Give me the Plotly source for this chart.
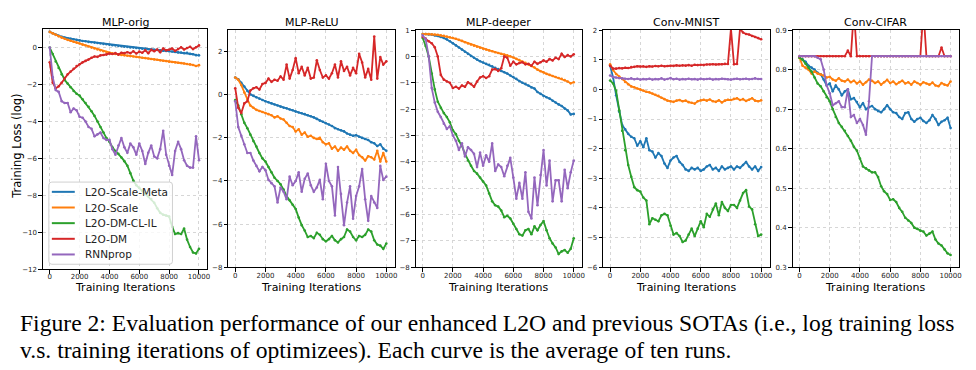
import plotly.graph_objects as go

W, H = 976, 370

ITERS = list(range(0, 10001, 200))
SERIES_NAMES = ["L2O-Scale-Meta", "L2O-Scale", "L2O-DM-CL-IL", "L2O-DM", "RNNprop"]
COLORS = ["#1f77b4", "#ff7f0e", "#2ca02c", "#d62728", "#9467bd"]
PANEL_TITLES = ["MLP-orig", "MLP-ReLU", "MLP-deeper", "Conv-MNIST", "Conv-CIFAR"]
X_TICKS = [0, 2000, 4000, 6000, 8000, 10000]

# ---------------- MLP-orig ----------------
P1_META = [0.85, 0.78, 0.70, 0.64, 0.59, 0.55, 0.51, 0.48, 0.45, 0.42,
           0.39, 0.36, 0.34, 0.31, 0.29, 0.27, 0.25, 0.22, 0.20, 0.18,
           0.15, 0.13, 0.11, 0.09, 0.07, 0.05, 0.03, 0.01, 0.00, -0.02,
           -0.04, -0.06, -0.07, -0.09, -0.10, -0.12, -0.13, -0.15, -0.17, -0.18,
           -0.20, -0.21, -0.24, -0.26, -0.27, -0.30, -0.28, -0.34, -0.36, -0.41,
           -0.42]
P1_SCALE = [0.85, 0.77, 0.69, 0.61, 0.54, 0.48, 0.42, 0.37, 0.32, 0.27,
            0.22, 0.16, 0.11, 0.06, 0.00, -0.05, -0.10, -0.15, -0.20, -0.24,
            -0.28, -0.31, -0.34, -0.37, -0.40, -0.42, -0.44, -0.46, -0.48, -0.50,
            -0.52, -0.55, -0.57, -0.59, -0.62, -0.64, -0.66, -0.69, -0.71, -0.73,
            -0.76, -0.78, -0.80, -0.82, -0.84, -0.86, -0.89, -0.91, -0.94, -1.00,
            -0.95]
P1_DMCL = [0.0, -0.35, -0.75, -1.1, -1.45, -1.75, -1.95, -2.15, -2.35, -2.5,
           -2.6, -2.8, -3.0, -3.2, -3.45, -3.7, -4.0, -4.3, -4.6, -4.9,
           -5.1, -5.4, -5.6, -5.75, -5.95, -6.15, -6.4, -6.8, -7.2, -7.45,
           -7.6, -7.75, -7.9, -8.05, -8.2, -8.4, -8.7, -8.95, -9.05, -9.1,
           -9.15, -9.7, -10.1, -10.05, -10.1, -9.8, -10.4, -10.8, -11.1, -11.15,
           -10.9]
P1_DM = [-0.8, -1.9, -2.2, -2.1, -1.9, -1.65, -1.45, -1.3, -1.15, -1.0,
         -0.9, -0.8, -0.72, -0.65, -0.55, -0.48, -0.5, -0.42, -0.4, -0.38,
         -0.32, -0.35, -0.3, -0.38, -0.28, -0.3, -0.25, -0.3, -0.2, -0.32,
         -0.22, -0.28, -0.15, -0.3, -0.12, -0.2, -0.1, -0.25, -0.05, -0.15,
         -0.12, -0.05, -0.18, -0.08, 0.02, -0.1, -0.02, 0.05, -0.08, 0.02,
         0.12]
P1_RNN = [0.0, -1.6, -2.3, -2.4, -2.9, -3.0, -3.0, -3.5, -3.3, -3.4,
          -3.75, -3.8, -4.0, -4.3, -4.4, -4.8, -4.7, -4.6, -4.9, -5.0,
          -5.0, -5.5, -5.8, -5.3, -4.9, -5.4, -5.7, -5.2, -5.4, -5.8,
          -5.2, -5.6, -6.3, -5.7, -5.3, -5.9, -6.0, -5.5, -4.5, -5.8,
          -6.4, -6.9, -5.6, -5.1, -5.5, -6.1, -6.4, -6.5, -6.5, -4.8,
          -6.1]

# ---------------- MLP-ReLU ----------------
P2_META = [0.8, 0.72, 0.55, 0.38, 0.18, 0.02, -0.05, -0.12, -0.18, -0.24,
           -0.3, -0.35, -0.4, -0.45, -0.5, -0.55, -0.6, -0.63, -0.68, -0.72,
           -0.78, -0.82, -0.86, -0.9, -0.95, -1.0, -1.05, -1.12, -1.2, -1.25,
           -1.32, -1.38, -1.45, -1.55, -1.6, -1.65, -1.7, -1.8, -1.85, -1.9,
           -1.88, -1.95, -2.0, -2.05, -2.1, -2.2, -2.25, -2.38, -2.3, -2.5,
           -2.6]
P2_SCALE = [0.8, 0.7, 0.45, 0.1, -0.2, -0.5, -0.6, -0.7, -0.75, -0.8,
            -0.85, -0.9, -0.95, -1.05, -1.0, -1.1, -1.15, -1.3, -1.45, -1.5,
            -1.7, -1.6, -1.85, -1.75, -1.95, -1.9, -2.0, -2.05, -2.0, -2.2,
            -2.3, -2.25, -2.5, -2.4, -2.6, -2.45, -2.55, -2.4, -2.6, -2.7,
            -2.55, -2.8, -2.9, -3.05, -2.85, -2.9, -3.0, -2.6, -3.1, -2.7,
            -3.1]
P2_DMCL = [-0.25, -0.5, -0.9, -1.3, -1.55, -1.85, -2.15, -2.4, -2.7, -2.95,
           -3.1, -3.35, -3.6, -3.85, -4.0, -4.15, -4.4, -4.7, -4.9, -5.1,
           -5.3, -5.7, -6.05, -6.3, -6.6, -6.55, -6.65, -6.4, -6.5, -6.7,
           -6.8, -6.7, -6.55, -6.75, -6.85, -6.7, -6.6, -6.25, -6.35, -6.6,
           -6.75, -6.55, -6.6, -6.5, -6.25, -6.35, -6.75, -6.95, -7.0, -7.15,
           -6.9]
P2_DM = [0.3, -0.6, -0.85, -0.4, -0.3, 0.2, 0.3, 0.35, 0.25, 0.5,
         0.55, 0.75, 0.6, 0.7, 0.65, 0.85, 0.7, 1.4, 0.75, 1.15,
         1.7, 1.0, 1.3, 0.9, 1.25, 0.75, 0.8, 1.6, 1.15, 0.8,
         0.9, 0.75, 1.0, 1.4, 0.8, 1.55, 1.1, 1.3, 0.9, 1.25,
         1.0, 1.9, 1.5, 0.8, 1.2, 0.7, 2.7, 0.75, 1.75, 1.4,
         1.55]
P2_RNN = [-0.3, -1.5, -1.9, -2.3, -2.7, -2.7, -3.05, -3.3, -3.55, -3.35,
          -3.5, -3.95, -4.1, -4.25, -5.0, -4.3, -4.5, -4.85, -3.8, -4.2,
          -4.0, -3.6, -4.5, -3.9, -3.65, -4.2, -4.5, -4.3, -3.95, -4.85,
          -3.2, -4.0, -4.25, -5.6, -3.35, -4.6, -6.05, -5.0, -4.25, -5.75,
          -4.7, -4.25, -3.45, -4.85, -5.85, -4.7, -5.0, -5.25, -3.3, -3.95,
          -3.8]

# ---------------- MLP-deeper ----------------
P3_META = [0.85, 0.85, 0.84, 0.83, 0.8, 0.78, 0.74, 0.7, 0.65, 0.58,
           0.5, 0.42, 0.34, 0.26, 0.18, 0.1, 0.02, -0.05, -0.12, -0.18,
           -0.23, -0.28, -0.32, -0.37, -0.43, -0.48, -0.55, -0.6, -0.65, -0.72,
           -0.78, -0.85, -0.93, -1.0, -1.05, -1.1, -1.18, -1.22, -1.35, -1.42,
           -1.5, -1.55, -1.6, -1.68, -1.75, -1.82, -1.88, -1.98, -2.05, -2.2,
           -2.18]
P3_SCALE = [0.85, 0.85, 0.85, 0.84, 0.83, 0.82, 0.8, 0.78, 0.76, 0.73,
            0.7, 0.67, 0.63, 0.59, 0.54, 0.49, 0.45, 0.41, 0.37, 0.33,
            0.29, 0.26, 0.23, 0.2, 0.16, 0.13, 0.1, 0.07, 0.04, 0.01,
            -0.04, -0.09, -0.14, -0.19, -0.24, -0.3, -0.36, -0.42, -0.5, -0.56,
            -0.6, -0.66, -0.7, -0.74, -0.78, -0.82, -0.85, -0.9, -0.95, -1.02,
            -0.98]
P3_DMCL = [0.7, 0.4, 0.0, -0.65, -1.25, -1.72, -1.95, -2.15, -2.3, -2.5,
           -2.8, -2.95, -3.2, -3.4, -3.7, -3.95, -4.15, -4.35, -4.45, -4.6,
           -4.75, -4.9, -5.2, -5.5, -5.65, -5.7, -5.85, -6.1, -6.05, -6.15,
           -6.35, -6.55, -6.75, -6.8, -6.6, -6.55, -6.75, -6.45, -6.6, -6.4,
           -6.25, -6.6, -6.9, -7.1, -7.25, -7.5, -7.4, -7.35, -7.45, -7.3,
           -6.9]
P3_DM = [0.75, 0.68, 0.58, 0.5, 0.35, 0.0, -0.7, -0.88, -0.95, -1.0,
         -1.2, -1.15, -1.22, -1.1, -1.15, -0.98, -1.05, -1.15, -0.95, -0.8,
         -0.75, -0.82, -0.75, -0.5, -0.48, -0.55, -0.45, 0.0, -0.05, -0.35,
         -0.2, -0.3, -0.25, -0.22, -0.3, -0.28, -0.35, -0.2, -0.28, -0.22,
         -0.15, -0.2, -0.1, -0.15, -0.05, -0.1, 0.1, -0.02, 0.05, 0.0,
         0.08]
P3_RNN = [0.8, 0.65, 0.0, -1.2, -1.75, -2.1, -2.3, -2.55, -2.75, -2.65,
          -3.0, -3.2, -3.55, -3.3, -3.8, -3.45, -3.55, -3.7, -4.2, -3.65,
          -4.15, -3.75, -4.0, -3.3, -4.35, -4.1, -4.2, -4.55, -4.15, -3.85,
          -4.6, -5.4, -4.8, -5.4, -4.4, -5.9, -6.15, -4.6, -5.65, -4.5,
          -3.55, -4.9, -3.95, -5.5, -4.7, -4.7, -5.5, -4.3, -5.0, -4.4,
          -3.95]

# ---------------- Conv-MNIST ----------------
P4_META = [0.8, 0.4, -0.2, -0.75, -1.2, -1.35, -1.5, -1.6, -1.65, -1.9,
           -1.75, -1.95, -1.65, -2.05, -2.1, -2.3, -2.15, -2.25, -2.5, -2.65,
           -2.4, -2.3, -2.25, -2.45, -2.55, -2.7, -2.75, -2.65, -2.7, -2.65,
           -2.75, -2.7, -2.6, -2.55, -2.7, -2.65, -2.75, -2.6, -2.7, -2.65,
           -2.6, -2.7, -2.6, -2.65, -2.55, -2.45, -2.6, -2.7, -2.6, -2.75,
           -2.62]
P4_SCALE = [0.85, 0.65, 0.52, 0.43, 0.35, 0.25, 0.17, 0.1, 0.07, 0.03,
            0.0, -0.04, -0.08, -0.1, -0.14, -0.18, -0.22, -0.28, -0.33, -0.38,
            -0.4, -0.42, -0.38, -0.36, -0.4, -0.38, -0.43, -0.45, -0.48, -0.4,
            -0.37, -0.35, -0.38, -0.34, -0.4, -0.42, -0.37, -0.44, -0.38, -0.35,
            -0.36, -0.32, -0.3, -0.36, -0.33, -0.39, -0.35, -0.3, -0.38, -0.4,
            -0.37]
P4_DMCL = [0.3, 0.2, -0.05, -0.7, -1.4, -2.05, -2.55, -2.95, -3.3, -3.4,
           -3.45, -3.65, -3.75, -4.55, -4.35, -4.4, -4.45, -4.25, -4.2, -4.25,
           -4.6, -4.9, -4.85, -4.95, -5.15, -5.1, -4.9, -4.7, -4.95, -4.7,
           -4.45, -4.65, -4.2, -4.3, -4.05, -3.85, -4.25, -3.8, -4.0, -4.1,
           -3.9, -3.9, -4.0, -3.75, -3.5, -3.4, -3.95, -4.05, -4.55, -4.95,
           -4.9]
P4_DM = [0.8, 0.7, 0.7, 0.72, 0.71, 0.73, 0.72, 0.75, 0.76, 0.78,
         0.77, 0.78, 0.76, 0.78, 0.77, 0.79, 0.78, 0.8, 0.78, 0.79,
         0.8, 0.79, 0.81, 0.8, 0.81, 0.8, 0.82, 0.8, 0.83, 0.82,
         0.83, 0.82, 0.84, 0.84, 0.85, 0.84, 0.85, 0.85, 0.86, 0.86,
         2.05, 0.85, 0.86, 2.05, 1.92, 1.87, 1.85, 1.8, 1.77, 1.73,
         1.69]
P4_RNN = [0.47, 0.42, 0.4, 0.38, 0.37, 0.36, 0.35, 0.37, 0.34, 0.36,
          0.33, 0.35, 0.34, 0.36, 0.33, 0.35, 0.34, 0.37, 0.33, 0.35,
          0.38, 0.34, 0.36, 0.33, 0.35, 0.34, 0.36, 0.34, 0.35, 0.33,
          0.36, 0.34, 0.35, 0.36, 0.33, 0.35, 0.34, 0.36, 0.35, 0.34,
          0.33, 0.35, 0.36, 0.34, 0.35, 0.36, 0.34, 0.35, 0.37, 0.35,
          0.35]

# ---------------- Conv-CIFAR ----------------
P5_META = [0.83, 0.826, 0.82, 0.81, 0.805, 0.8, 0.792, 0.788, 0.775, 0.76,
           0.765, 0.745, 0.76, 0.75, 0.735, 0.745, 0.75, 0.725, 0.728, 0.718,
           0.705, 0.715, 0.7, 0.705, 0.708, 0.7, 0.695, 0.692, 0.7, 0.71,
           0.7, 0.692, 0.69, 0.68, 0.675, 0.69, 0.692, 0.675, 0.668, 0.675,
           0.678, 0.67, 0.665, 0.672, 0.685, 0.675, 0.66, 0.668, 0.672, 0.678,
           0.652]
P5_SCALE = [0.83, 0.81, 0.805, 0.8, 0.79, 0.795, 0.79, 0.788, 0.785, 0.78,
            0.782, 0.775, 0.772, 0.778, 0.772, 0.77, 0.775, 0.768, 0.772, 0.765,
            0.77, 0.762, 0.768, 0.775, 0.772, 0.766, 0.77, 0.762, 0.768, 0.774,
            0.766, 0.77, 0.763, 0.768, 0.772, 0.765, 0.768, 0.762, 0.77, 0.766,
            0.762, 0.768, 0.765, 0.762, 0.767, 0.76, 0.758, 0.766, 0.762, 0.76,
            0.77]
P5_DMCL = [0.83, 0.825, 0.815, 0.805, 0.795, 0.78, 0.765, 0.758, 0.745, 0.73,
           0.72, 0.7, 0.68, 0.665, 0.655, 0.645, 0.632, 0.62, 0.605, 0.595,
           0.575, 0.555, 0.55, 0.545, 0.54, 0.54, 0.528, 0.505, 0.492, 0.485,
           0.47, 0.472, 0.465, 0.45, 0.44, 0.425, 0.418, 0.412, 0.4, 0.397,
           0.392, 0.39, 0.38, 0.385, 0.39, 0.37, 0.36, 0.355, 0.345, 0.335,
           0.331]
P5_DM = [0.834, 0.834, 0.834, 0.834, 0.834, 0.834, 0.834, 0.834, 0.834, 0.834,
         0.834, 0.834, 0.834, 0.834, 0.834, 0.834, 0.848, 0.834, 0.95, 0.834,
         0.834, 0.834, 0.834, 0.834, 0.834, 0.834, 0.834, 0.834, 0.834, 0.834,
         0.834, 0.834, 0.834, 0.834, 0.834, 0.834, 0.834, 0.834, 0.834, 0.834,
         0.834, 0.95, 0.834, 0.834, 0.834, 0.834, 0.834, 0.856, 0.834, 0.834,
         0.834]
P5_RNN = [0.834, 0.834, 0.834, 0.834, 0.834, 0.834, 0.83, 0.826, 0.8, 0.76,
          0.74, 0.71, 0.715, 0.72, 0.705, 0.705, 0.75, 0.68, 0.685, 0.665,
          0.675, 0.66, 0.635, 0.72, 0.834, 0.834, 0.834, 0.834, 0.834, 0.834,
          0.834, 0.834, 0.834, 0.834, 0.834, 0.834, 0.834, 0.834, 0.834, 0.834,
          0.834, 0.834, 0.834, 0.834, 0.834, 0.834, 0.834, 0.834, 0.834, 0.834,
          0.834]

PANEL_DATA = [
    [P1_META, P1_SCALE, P1_DMCL, P1_DM, P1_RNN],
    [P2_META, P2_SCALE, P2_DMCL, P2_DM, P2_RNN],
    [P3_META, P3_SCALE, P3_DMCL, P3_DM, P3_RNN],
    [P4_META, P4_SCALE, P4_DMCL, P4_DM, P4_RNN],
    [P5_META, P5_SCALE, P5_DMCL, P5_DM, P5_RNN],
]
Y_RANGES = [[-12, 1], [-8, 3], [-8, 1], [-6, 2], [0.3, 0.9]]
Y_TICK0 = [-12, -8, -8, -6, 0.3]
Y_DTICK = [2, 2, 1, 1, 0.1]
Y_FORMAT = ["d", "d", "d", "d", ".1f"]

# panel frames in pixels: (left, right, top, bottom)
FRAMES = [(43, 208, 25.7, 271), (229, 396, 26.7, 269), (417, 584, 26.7, 269),
          (605, 772, 26.7, 269), (795, 962, 26.7, 269)]


def px(x):
    return x / W


def py(y):
    return 1 - y / H


FONT = "DejaVu Sans"
fig = go.Figure()
annotations = []
shapes = []

for p in range(5):
    xa = "x" if p == 0 else f"x{p + 1}"
    ya = "y" if p == 0 else f"y{p + 1}"
    for s in range(5):
        fig.add_trace(go.Scatter(
            x=ITERS, y=PANEL_DATA[p][s], xaxis=xa, yaxis=ya,
            mode="lines+markers", name=SERIES_NAMES[s], showlegend=False,
            line=dict(color=COLORS[s], width=1.8),
            marker=dict(size=2.6, color=COLORS[s]),
            cliponaxis=True,
        ))
    l, r, t, b = FRAMES[p]
    common = dict(showline=True, linecolor="black", linewidth=1, mirror=True,
                  ticks="outside", ticklen=3.5, tickwidth=1, tickcolor="black",
                  showgrid=True, gridcolor="#d6d6d6", griddash="dot", gridwidth=1,
                  zeroline=False, tickfont=dict(family=FONT, size=7, color="#222"))
    fig.layout[("xaxis" if p == 0 else f"xaxis{p + 1}")] = dict(
        domain=[px(l), px(r)], anchor=ya, range=[-460, 10560],
        tickmode="array", tickvals=X_TICKS, ticktext=[str(v) for v in X_TICKS],
        ticklabelstandoff=-3 if p == 0 else -2, **common)
    fig.layout[("yaxis" if p == 0 else f"yaxis{p + 1}")] = dict(
        domain=[py(b), py(t)], anchor=xa, range=Y_RANGES[p],
        tickmode="linear", tick0=Y_TICK0[p], dtick=Y_DTICK[p], tickformat=Y_FORMAT[p],
        **common)
    cx = (l + r) / 2
    annotations.append(dict(text=PANEL_TITLES[p], x=px(cx), y=py(19), xref="paper", yref="paper",
                            showarrow=False, xanchor="center", yanchor="middle",
                            font=dict(family=FONT, size=11, color="black")))
    annotations.append(dict(text="Training Iterations", x=px(cx), y=py(290), xref="paper", yref="paper",
                            showarrow=False, xanchor="center", yanchor="middle",
                            font=dict(family=FONT, size=11, color="black")))

annotations.append(dict(text="Training Loss (log)", x=px(17), y=py(145), xref="paper", yref="paper",
                        showarrow=False, xanchor="center", yanchor="middle", textangle=-90,
                        font=dict(family=FONT, size=11.5, color="black")))

# legend (inside MLP-orig panel)
lx0, lx1, ly0, ly1, rad = 49, 173, 182, 266, 3
path = (f"M {px(lx0 + rad)},{py(ly0)} L {px(lx1 - rad)},{py(ly0)} "
        f"Q {px(lx1)},{py(ly0)} {px(lx1)},{py(ly0 + rad)} L {px(lx1)},{py(ly1 - rad)} "
        f"Q {px(lx1)},{py(ly1)} {px(lx1 - rad)},{py(ly1)} L {px(lx0 + rad)},{py(ly1)} "
        f"Q {px(lx0)},{py(ly1)} {px(lx0)},{py(ly1 - rad)} L {px(lx0)},{py(ly0 + rad)} "
        f"Q {px(lx0)},{py(ly0)} {px(lx0 + rad)},{py(ly0)} Z")
shapes.append(dict(type="path", path=path, xref="paper", yref="paper", layer="above",
                   fillcolor="rgba(255,255,255,0.8)", line=dict(color="#d0d0d0", width=1)))
for s in range(5):
    yy = 192 + 16 * s
    shapes.append(dict(type="line", xref="paper", yref="paper", layer="above",
                       x0=px(52), x1=px(75), y0=py(yy), y1=py(yy),
                       line=dict(color=COLORS[s], width=2)))
    annotations.append(dict(text=SERIES_NAMES[s], x=px(83), y=py(yy), xref="paper", yref="paper",
                            showarrow=False, xanchor="left", yanchor="middle",
                            font=dict(family=FONT, size=10.5, color="#222")))

CAPTION_1 = "Figure 2: Evaluation performance of our enhanced L2O and previous SOTAs (i.e., log training loss"
CAPTION_2 = "v.s. training iterations of optimizees). Each curve is the average of ten runs."
for txt, yy in [(CAPTION_1, 326), (CAPTION_2, 354)]:
    annotations.append(dict(text=txt, x=px(18), y=py(yy), xref="paper", yref="paper",
                            showarrow=False, xanchor="left", yanchor="middle",
                            font=dict(family="Liberation Serif", size=23.6, color="black")))

fig.update_layout(width=W, height=H, margin=dict(l=0, r=0, t=0, b=0),
                  paper_bgcolor="white", plot_bgcolor="white",
                  annotations=annotations, shapes=shapes, showlegend=False)
fig.write_html("out.html", config={"displayModeBar": False},
               post_script="document.body.style.margin='0';document.body.style.padding='0';"
                           "document.body.style.overflow='hidden';")
